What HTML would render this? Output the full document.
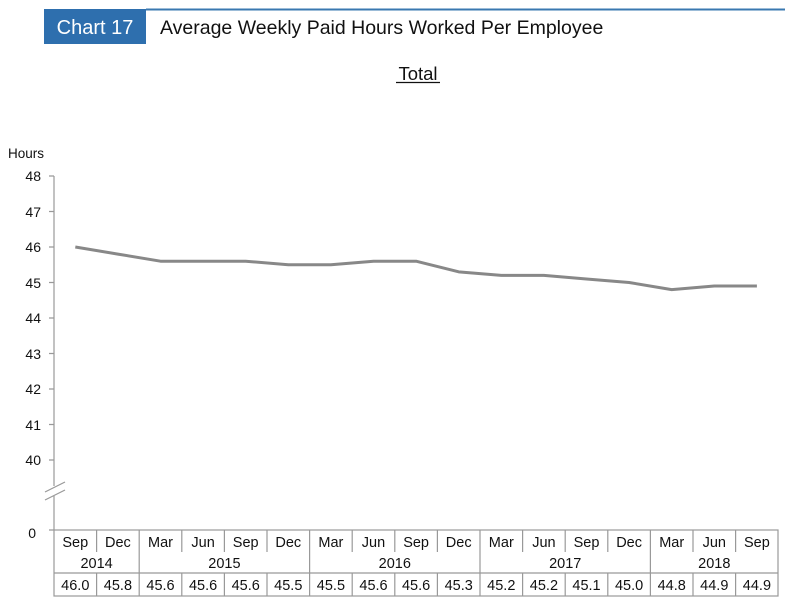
<!DOCTYPE html>
<html><head><meta charset="utf-8"><style>
body{margin:0;background:#fff;}
svg{display:block;font-family:"Liberation Sans",Arial,sans-serif;}
</style></head><body>
<svg width="800" height="607" viewBox="0 0 800 607" xmlns="http://www.w3.org/2000/svg">
<rect width="800" height="607" fill="#fff"/>
<line x1="146" y1="9.5" x2="785" y2="9.5" stroke="#3a78b0" stroke-width="2"/>
<rect x="44" y="9" width="102" height="35" fill="#2e6fae"/>
<text x="95" y="34" font-size="20" fill="#fff" text-anchor="middle">Chart 17</text>
<text x="160" y="34" font-size="19.5" fill="#111">Average Weekly Paid Hours Worked Per Employee</text>
<text x="418" y="80" font-size="18.5" fill="#111" text-anchor="middle">Total</text>
<line x1="396" y1="82.5" x2="440" y2="82.5" stroke="#111" stroke-width="1.3"/>
<text x="8" y="158" font-size="13.5" fill="#111">Hours</text>
<g font-size="14" fill="#111" text-anchor="end">
<text x="41" y="181">48</text><text x="41" y="217">47</text><text x="41" y="252">46</text>
<text x="41" y="288">45</text><text x="41" y="323">44</text><text x="41" y="359">43</text>
<text x="41" y="394">42</text><text x="41" y="430">41</text><text x="41" y="465">40</text>
<text x="36" y="538">0</text>
</g>
<g stroke="#999" stroke-width="1.2" fill="none">
<line x1="54" y1="176" x2="54" y2="486"/>
<line x1="54" y1="496" x2="54" y2="530"/>
<path d="M49 176H54M49 211.5H54M49 247H54M49 282.5H54M49 318H54M49 353.5H54M49 389H54M49 424.5H54M49 460H54M49 530H54"/>
<line x1="45" y1="492" x2="65" y2="482"/>
<line x1="45" y1="500" x2="65" y2="490"/>
</g>
<polyline fill="none" stroke="#888" stroke-width="3" stroke-linejoin="round" points="75.3,247 117.9,254.1 160.5,261.2 203.1,261.2 245.7,261.2 288.3,264.75 330.9,264.75 373.5,261.2 416.1,261.2 458.7,271.85 501.3,275.4 543.9,275.4 586.5,278.95 629.1,282.5 671.7,289.6 714.3,286.05 756.9,286.05"/>
<g stroke="#999" stroke-width="1.2" fill="none">
<rect x="54" y="530" width="724" height="66"/>
<line x1="54" y1="573" x2="778" y2="573"/>
<path d="M139.2 530V596M309.6 530V596M480 530V596M650.4 530V596"/>
<path d="M96.6 530V552M181.8 530V552M224.4 530V552M267 530V552M352.2 530V552M394.8 530V552M437.4 530V552M522.6 530V552M565.2 530V552M607.8 530V552M693 530V552M735.6 530V552"/>
<path d="M96.6 573V596M181.8 573V596M224.4 573V596M267 573V596M352.2 573V596M394.8 573V596M437.4 573V596M522.6 573V596M565.2 573V596M607.8 573V596M693 573V596M735.6 573V596"/>
</g>
<g font-size="14.5" fill="#111" text-anchor="middle">
<text x="75.3" y="547">Sep</text><text x="117.9" y="547">Dec</text><text x="160.5" y="547">Mar</text><text x="203.1" y="547">Jun</text><text x="245.7" y="547">Sep</text><text x="288.3" y="547">Dec</text><text x="330.9" y="547">Mar</text><text x="373.5" y="547">Jun</text><text x="416.1" y="547">Sep</text><text x="458.7" y="547">Dec</text><text x="501.3" y="547">Mar</text><text x="543.9" y="547">Jun</text><text x="586.5" y="547">Sep</text><text x="629.1" y="547">Dec</text><text x="671.7" y="547">Mar</text><text x="714.3" y="547">Jun</text><text x="756.9" y="547">Sep</text>
<text x="96.6" y="568">2014</text><text x="224.4" y="568">2015</text><text x="394.8" y="568">2016</text><text x="565.2" y="568">2017</text><text x="714.3" y="568">2018</text>
<text x="75.3" y="590">46.0</text><text x="117.9" y="590">45.8</text><text x="160.5" y="590">45.6</text><text x="203.1" y="590">45.6</text><text x="245.7" y="590">45.6</text><text x="288.3" y="590">45.5</text><text x="330.9" y="590">45.5</text><text x="373.5" y="590">45.6</text><text x="416.1" y="590">45.6</text><text x="458.7" y="590">45.3</text><text x="501.3" y="590">45.2</text><text x="543.9" y="590">45.2</text><text x="586.5" y="590">45.1</text><text x="629.1" y="590">45.0</text><text x="671.7" y="590">44.8</text><text x="714.3" y="590">44.9</text><text x="756.9" y="590">44.9</text>
</g>
</svg>
</body></html>
